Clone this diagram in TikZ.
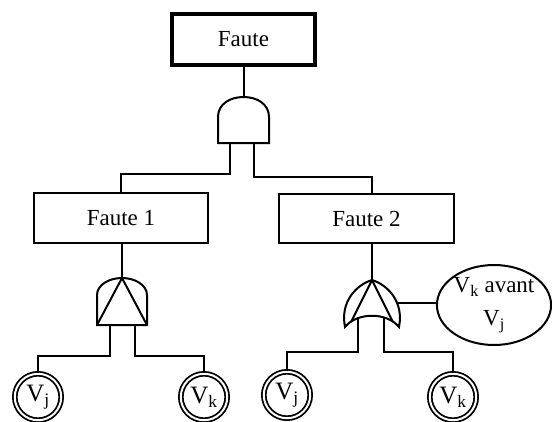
\documentclass[tikz,border=0pt]{standalone}
\usepackage{fontspec}
\setmainfont{Liberation Serif}
\usetikzlibrary{shapes.geometric}
\begin{document}
\begin{tikzpicture}[x=1pt,y=-1pt,
  wire/.style={line width=2pt},
  gate/.style={line width=2pt},
  event/.style={draw,line width=2pt,inner sep=0pt,font=\fontsize{23}{27}\selectfont},
  top event/.style={event,line width=4pt},
  basic/.style={circle,draw,double,line width=1.8pt,double distance=2pt,
    minimum size=46.4pt,inner sep=0pt,font=\fontsize{25}{29}\selectfont},
  cond/.style={ellipse,draw,line width=2pt,minimum width=114pt,minimum height=80pt,
    inner sep=0pt,align=center,font=\fontsize{23}{33}\selectfont}
]
\useasboundingbox (0,0) rectangle (552,421);

% events
\node[top event,minimum width=143pt,minimum height=51pt] (top) at (243.5,39.5) {Faute};
\node[event,minimum width=174pt,minimum height=50pt] (f1) at (121,218) {Faute 1};
\node[event,minimum width=175pt,minimum height=49pt] (f2) at (366.5,218.5) {Faute 2};

% basic events
\node[basic] (c1) at (38,397) {V\textsubscript{j}};
\node[basic] (c2) at (204,397) {V\textsubscript{k}};
\node[basic] (c3) at (287,395) {V\textsubscript{j}};
\node[basic] (c4) at (453,397) {V\textsubscript{k}};

% condition
\node[cond] (e) at (494,305) {V\textsubscript{k} avant\\V\textsubscript{j}};

% AND gate under the top event
\coordinate (g0top) at (243.5,97);
\coordinate (g0l) at (230,143);
\coordinate (g0r) at (254,143);
\draw[gate] (218,143) -- (218,117) .. controls (218,104) and (230,97) .. (g0top)
  .. controls (257,97) and (269,104) .. (269,117) -- (269,143) -- cycle;

% priority AND gate under Faute 1
\coordinate (g1top) at (122,278);
\coordinate (g1l) at (110,325);
\coordinate (g1r) at (135,325);
\draw[gate] (97,325) -- (97,295) .. controls (97,285) and (109,278) .. (g1top)
  .. controls (135,278) and (147,285) .. (147,295) -- (147,325) -- cycle;
\draw[gate] (97,325) -- (g1top) -- (147,325);

% priority OR gate under Faute 2
\coordinate (g2top) at (372,280);
\coordinate (g2l) at (358,317);
\coordinate (g2r) at (384,317);
\coordinate (g2side) at (397,303);
\draw[gate] (345,327) .. controls (340,302) and (356,285) .. (g2top)
  .. controls (388,285) and (404,302) .. (399,327)
  .. controls (387,312) and (357,312) .. cycle;
\draw[gate] (351.5,321.2) -- (g2top) -- (392.5,321.2);

% connectors
\draw[wire] (top.south -| g0top) -- (g0top);
\draw[wire] (g0l) -- ++(0,31) -| (f1.north);
\draw[wire] (g0r) -- ++(0,34) -| (f2.north -| g2top);
\draw[wire] (f1.south -| g1top) -- (g1top);
\draw[wire] (g1l) -- ++(0,31) -| (c1.north);
\draw[wire] (g1r) -- ++(0,31) -| (c2.north);
\draw[wire] (f2.south -| g2top) -- (g2top);
\draw[wire] (g2l) -- ++(0,35) -| (c3.north);
\draw[wire] (g2r) -- ++(0,35) -| (c4.north);
\draw[wire] (g2side) -- (g2side -| e.west);
\end{tikzpicture}
\end{document}
